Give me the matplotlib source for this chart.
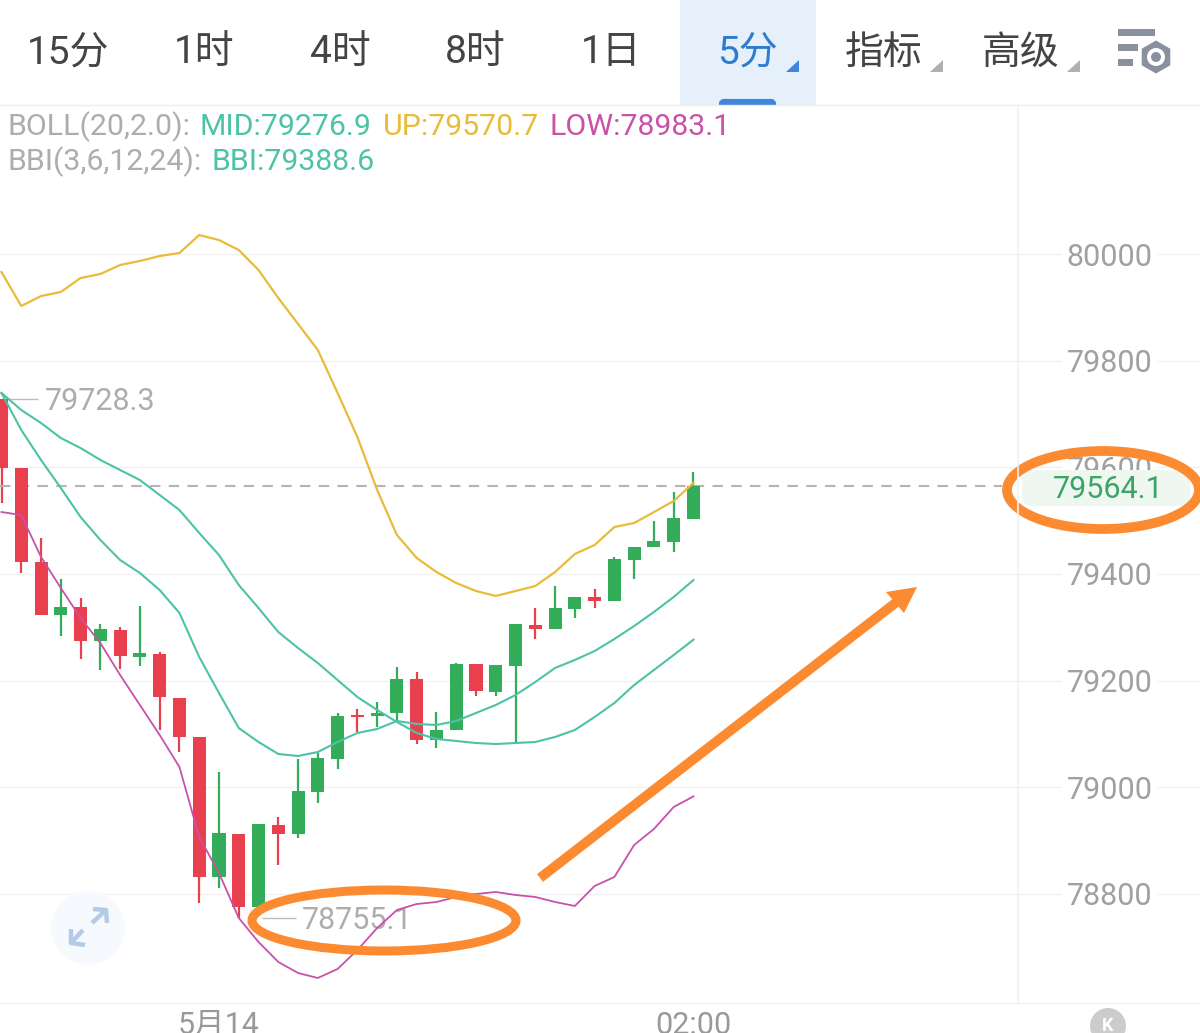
import matplotlib
matplotlib.use('Agg')
import matplotlib.pyplot as plt
from matplotlib.patches import Ellipse, Circle, Rectangle, Polygon, FancyBboxPatch, RegularPolygon
import numpy as np

plt.rcParams['font.family'] = ['Roboto', 'Noto Sans CJK SC', 'DejaVu Sans']

opens = [79728.3, 79598.8, 79422.5, 79323.1, 79338.1, 79274.4, 79295.0, 79244.4, 79250.0, 79167.5,
         79094.4, 78831.9, 78912.5, 78775.6, 78929.4, 78912.5, 78991.2, 79053.1, 79135.6, 79133.8,
         79139.4, 79203.1, 79088.8, 79107.5, 79231.2, 79178.8, 79227.5, 79304.4, 79296.9, 79334.4,
         79356.9, 79349.4, 79426.2, 79450.6, 79460.0, 79503.1]
closes = [79598.8, 79422.5, 79323.1, 79338.1, 79274.4, 79296.9, 79246.2, 79251.9, 79169.4, 79094.4,
          78831.9, 78914.4, 78775.6, 78931.2, 78912.5, 78993.1, 79055.0, 79133.8, 79131.9, 79139.4,
          79203.1, 79088.8, 79107.5, 79231.2, 79180.6, 79229.4, 79306.2, 79296.9, 79336.2, 79356.9,
          79349.4, 79428.1, 79450.6, 79461.9, 79505.0, 79564.1]
highs = [79728.3, 79598.8, 79467.5, 79390.6, 79355.0, 79306.2, 79300.6, 79340.0, 79253.8, 79167.5,
         79094.4, 79028.8, 78912.5, 78931.2, 78944.4, 79053.1, 79064.4, 79139.4, 79146.9, 79160.0,
         79225.6, 79216.2, 79141.2, 79233.1, 79231.2, 79229.4, 79306.2, 79336.2, 79377.5, 79356.9,
         79371.9, 79431.9, 79450.6, 79499.4, 79553.8, 79591.2]
lows = [79533.1, 79401.9, 79323.1, 79283.8, 79240.6, 79220.0, 79221.9, 79227.5, 79108.0, 79066.2,
        78783.1, 78811.2, 78755.1, 78775.6, 78854.4, 78905.0, 78970.6, 79034.4, 79103.8, 79113.1,
        79122.5, 79081.2, 79073.8, 79107.5, 79171.2, 79171.2, 79083.1, 79278.1, 79296.9, 79317.5,
        79336.2, 79349.4, 79390.6, 79450.6, 79441.2, 79503.1]

boll_mid = [79739.4, 79707.5, 79683.1, 79655.0, 79636.2, 79613.8, 79595.0, 79576.2, 79548.1, 79520.0,
            79476.9, 79435.6, 79379.4, 79336.2, 79291.2, 79261.2, 79233.1, 79201.2, 79169.4, 79145.0,
            79122.5, 79101.9, 79090.6, 79086.9, 79083.1, 79081.2, 79083.1, 79085.0, 79094.4, 79107.5,
            79131.9, 79158.1, 79191.9, 79220.0, 79248.1, 79276.9]
bbi = [79739.4, 79670.0, 79613.8, 79561.2, 79506.9, 79463.8, 79426.2, 79401.9, 79370.0, 79326.9,
       79244.4, 79176.9, 79111.2, 79085.0, 79062.5, 79058.8, 79066.2, 79085.0, 79101.9, 79109.4,
       79124.4, 79118.8, 79116.9, 79124.4, 79139.4, 79154.4, 79173.1, 79197.5, 79223.8, 79238.8,
       79255.6, 79278.1, 79302.5, 79328.8, 79356.9, 79388.6]
boll_up = [79966.2, 79902.5, 79921.2, 79928.8, 79955.0, 79962.5, 79979.4, 79986.9, 79996.2, 80001.9,
           80035.6, 80026.2, 80007.5, 79970.0, 79917.5, 79868.8, 79820.0, 79739.4, 79656.9, 79557.5,
           79473.1, 79430.0, 79403.8, 79383.1, 79368.1, 79358.8, 79368.1, 79377.5, 79403.8, 79437.5,
           79454.4, 79488.1, 79495.6, 79516.2, 79536.9, 79570.7]
boll_low = [79516.2, 79510.6, 79431.9, 79373.8, 79317.5, 79270.6, 79210.6, 79154.4, 79098.1, 79038.1,
            78906.9, 78839.4, 78755.0, 78710.0, 78672.5, 78651.9, 78642.5, 78659.4, 78695.0, 78736.2,
            78770.0, 78781.2, 78785.0, 78794.4, 78800.0, 78803.8, 78798.1, 78794.4, 78785.0, 78777.5,
            78815.0, 78831.9, 78891.9, 78921.9, 78963.1, 78983.1]

price_ticks = [78800, 79000, 79200, 79400, 79600, 79800, 80000]
time_ticks = [11, 35]
time_labels = ['5月14', '02:00']
last_price = 79564.1
tabs = ['15分', '1时', '4时', '8时', '1日', '5分', '指标', '高级']

RED = '#e8404f'
GREEN = '#33ad5a'
TEAL = '#4cc2a6'
YELLOW = '#e8bc3a'
PINK = '#c752a8'
ORANGE = '#fb8a30'
GREY = '#adadad'

fig = plt.figure(figsize=(12, 10.33), dpi=100)

ax = fig.add_axes([0, 30 / 1033, 1, 898 / 1033])
ax.set_xlim(-0.076, 60.62)
ax.set_ylim(78595.6, 80279.4)

idx = np.arange(len(opens))
o = np.array(opens)
c = np.array(closes)
colors = [GREEN if b >= a else RED for a, b in zip(opens, closes)]

ax.vlines(idx, lows, highs, colors=colors, lw=1.6, zorder=2)
ax.bar(idx, np.abs(c - o), bottom=np.minimum(o, c), width=0.66, color=colors, zorder=3)

ax.axhline(last_price, xmax=0.835, color='#b4b4b4', lw=1.5, dashes=(5, 4), zorder=2)

ax.plot(idx, boll_up, color=YELLOW, lw=1.6, zorder=4)
ax.plot(idx, boll_mid, color=TEAL, lw=1.5, zorder=4)
ax.plot(idx, bbi, color=TEAL, lw=1.5, zorder=4)
ax.plot(idx, boll_low, color=PINK, lw=1.3, zorder=4)

# high / low markers
ax.hlines(max(highs), 0, 1.85, color='#bdbdbd', lw=1)
ax.annotate('%.1f' % max(highs), (2.2, max(highs)), xytext=(0, -2), textcoords='offset points',
            color=GREY, fontsize=22, va='center')
ax.hlines(min(lows), 13.2, 14.9, color='#bdbdbd', lw=1)
ax.annotate('%.1f' % min(lows), (15.2, min(lows)), xytext=(0, -2), textcoords='offset points',
            color=GREY, fontsize=22, va='center', zorder=1)

ax.set_xticks(time_ticks)
ax.set_xticklabels(time_labels)
ax.set_yticks(price_ticks)
ax.yaxis.tick_right()
ax.tick_params(axis='y', length=0, pad=-96, labelsize=22, labelcolor='#a0a0a0')
ax.tick_params(axis='x', length=0, pad=6, labelsize=22, labelcolor='#999999')
for lbl in ax.get_yticklabels():
    lbl.set_bbox(dict(facecolor='white', edgecolor='none', pad=3))
ax.grid(axis='y', color='#f1f1f1', lw=1)
ax.set_axisbelow(True)
for s in ['top', 'left', 'right']:
    ax.spines[s].set_visible(False)
ax.spines['bottom'].set_color('#efefef')

# overlay in pixels: toolbar, legend text, hand drawn marks
ov = fig.add_axes([0, 0, 1, 1])
ov.set_xlim(0, 1200)
ov.set_ylim(1033, 0)
ov.axis('off')
ov.patch.set_visible(False)

ov.plot([1018, 1018], [105, 1003], color='#f1f1f1', lw=1.2)
ov.plot([0, 1200], [105, 105], color='#eeeeee', lw=1)

ov.add_patch(Rectangle((680, 0), 136, 105, facecolor='#e6f0fb', edgecolor='none'))
ov.add_patch(FancyBboxPatch((721, 101), 53, 6, boxstyle='round,pad=0,rounding_size=3', facecolor='#3f86dc',
                            edgecolor='#3f86dc', lw=3))
ov.add_patch(Rectangle((680, 105), 136, 6, facecolor='white', edgecolor='none'))

tab_x = [68, 204, 340, 475, 611, 747, 884, 1021]
for t, x in zip(tabs, tab_x):
    ov.text(x, 53, t, ha='center', va='center', fontsize=28, color='#2f7bd0' if t == '5分' else '#444444')
for x, col in [(786, '#3f86dc'), (930, '#b0b0b0'), (1067, '#b0b0b0')]:
    ov.add_patch(Polygon([(x, 72), (x + 13, 72), (x + 13, 60)], facecolor=col, edgecolor='none'))

# settings icon
for y, x1 in [(29, 1155), (44, 1138), (59, 1133)]:
    ov.add_patch(Rectangle((1118, y), x1 - 1118, 7, facecolor='#8a919e', edgecolor='none'))
ov.add_patch(RegularPolygon((1156, 57), 6, radius=16.5, facecolor='#8a919e', edgecolor='none'))
ov.add_patch(Circle((1156, 57), 9, facecolor='white', edgecolor='none'))
ov.add_patch(Circle((1156, 57), 5, facecolor='#8a919e', edgecolor='none'))

# legend
for x, y, t, col in [(8, 127, 'BOLL(20,2.0):', GREY), (200, 127, 'MID:79276.9', TEAL),
                     (383, 127, 'UP:79570.7', YELLOW), (549, 127, 'LOW:78983.1', PINK),
                     (8, 162, 'BBI(3,6,12,24):', GREY), (211, 162, 'BBI:79388.6', TEAL)]:
    ov.text(x, y, t, color=col, fontsize=21.8, va='center', ha='left')

# fullscreen button
ov.add_patch(Circle((88, 928), 37, facecolor='#f6f9fe', edgecolor='none'))
for pts in [[(92, 923), (106, 910)], [(93, 909), (106, 910), (107, 923)],
            [(83, 930), (71, 943)], [(71, 929), (71, 943), (85, 945)]]:
    ov.plot(*zip(*pts), color='#b4cbe8', lw=3.2, solid_capstyle='butt')

# K button
ov.add_patch(Circle((1108, 1026), 18, facecolor='#cccccc', edgecolor='none'))
ov.text(1108, 1026, 'K', color='white', fontsize=13, fontweight='bold', ha='center', va='center')

# current price tag, sits on the lower half of the 79600 label
ov.add_patch(FancyBboxPatch((1022, 470), 168, 36, boxstyle='round,pad=0,rounding_size=10',
                            facecolor='#eef8f1', edgecolor='none'))
ov.text(1108, 489, '79564.1', color='#3aa564', fontsize=22, ha='center', va='center')

# orange marks
ov.add_patch(Ellipse((1103, 490), 192, 78, facecolor='none', edgecolor=ORANGE, lw=7))
ov.add_patch(Ellipse((384, 920.5), 264, 61, facecolor='none', edgecolor=ORANGE, lw=6.5))
ov.plot([540, 898], [878, 601], color=ORANGE, lw=7, solid_capstyle='butt')
ov.add_patch(Polygon([(886, 592), (917, 587), (904, 613)], facecolor=ORANGE, edgecolor='none'))

fig.savefig('out.png', dpi=100)
